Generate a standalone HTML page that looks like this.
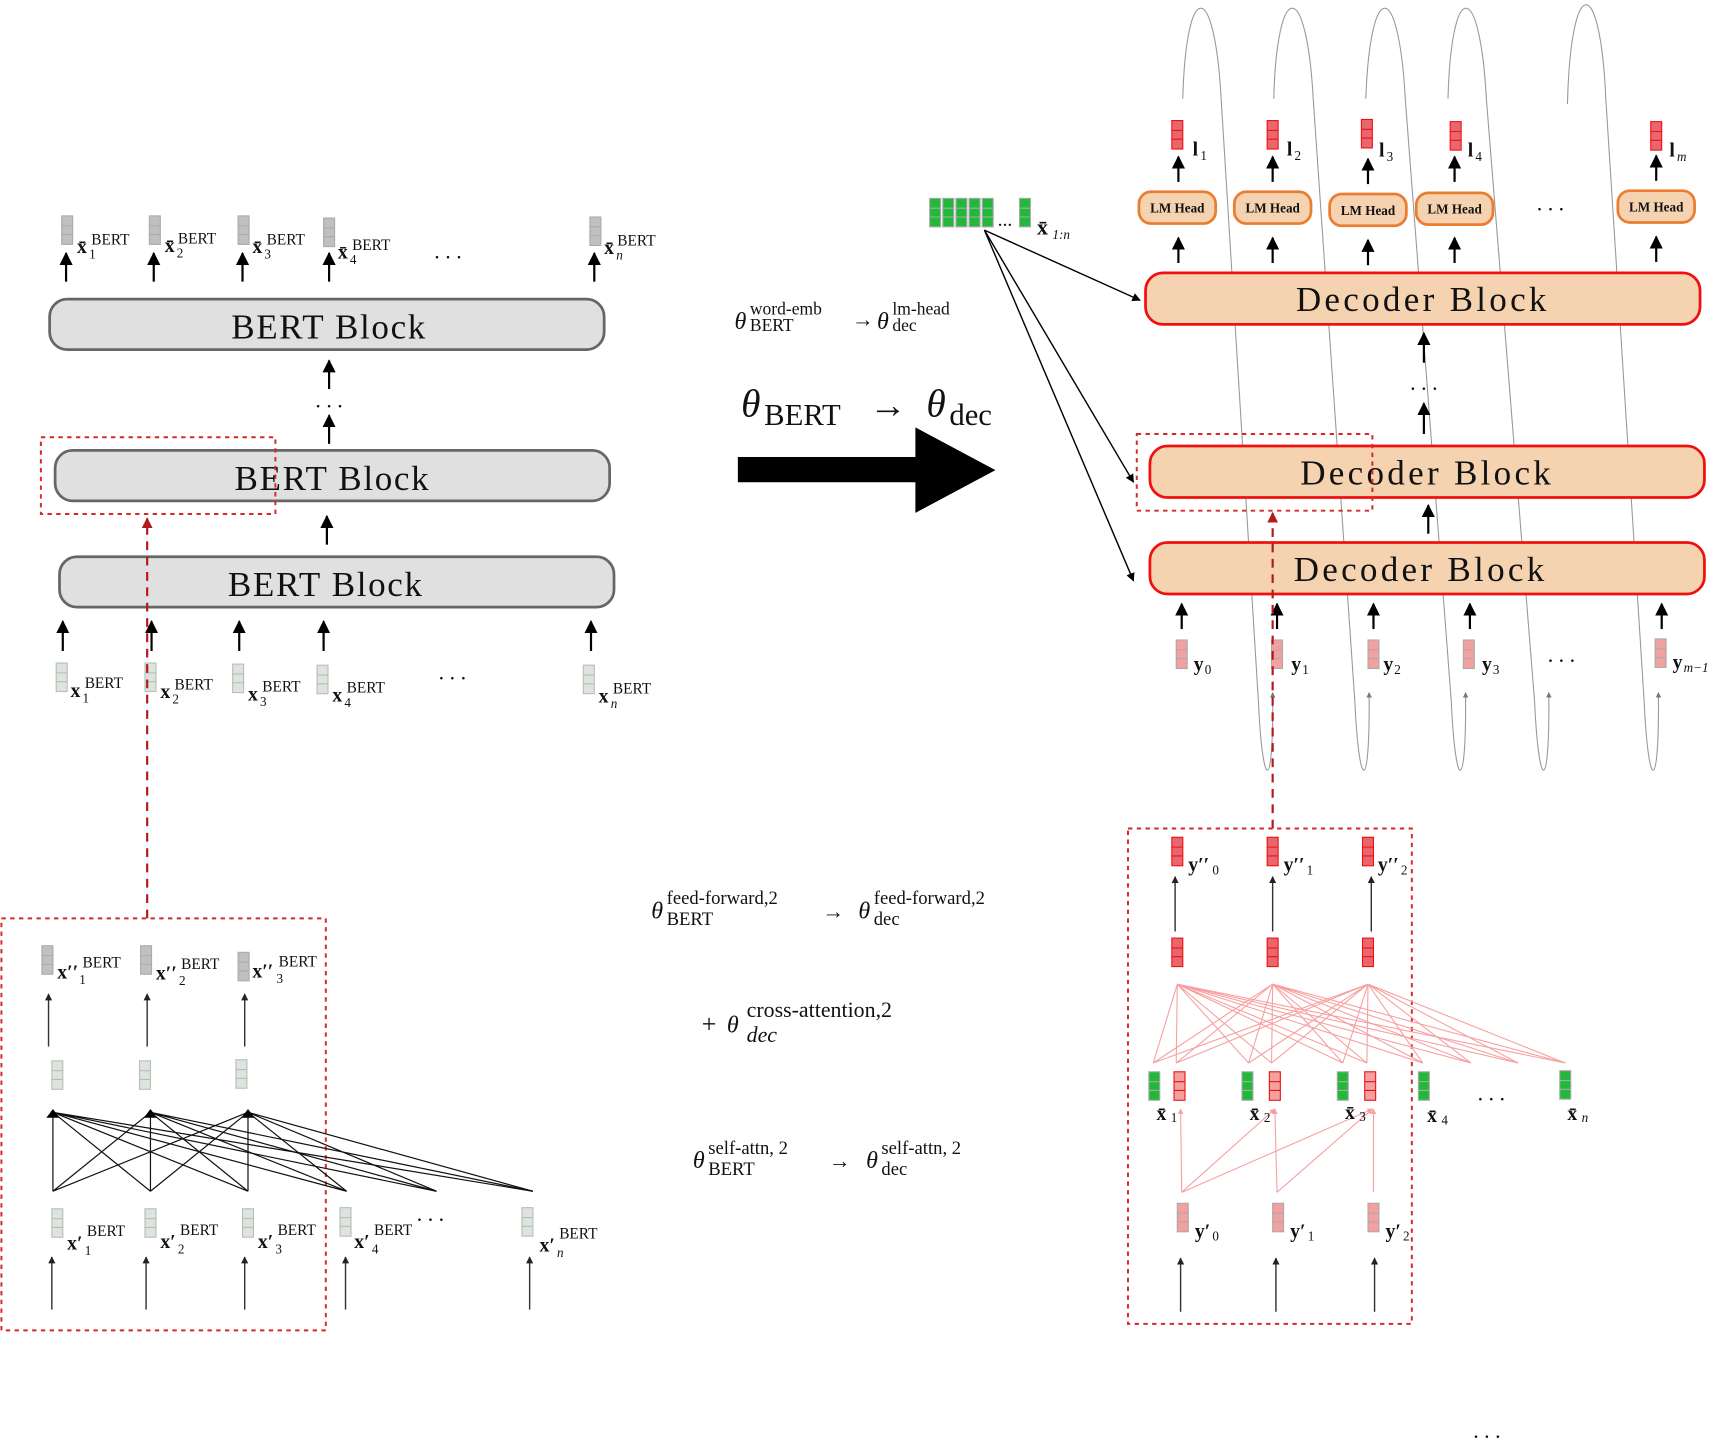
<!DOCTYPE html>
<html><head><meta charset="utf-8"><style>
html,body{margin:0;padding:0;background:#fff;}
svg{display:block;}
text{font-family:"Liberation Serif","DejaVu Serif",serif;fill:#111;}
.b{font-weight:bold;}
</style></head><body>
<svg width="1719" height="1440" viewBox="0 0 1568 1314" xmlns="http://www.w3.org/2000/svg">
<defs>
<marker id="ah" viewBox="0 0 10 10" refX="9" refY="5" markerWidth="6" markerHeight="6" orient="auto"><path d="M0,0L10,5L0,10z" fill="#000"/></marker>
<marker id="ahs" viewBox="0 0 10 10" refX="9" refY="5" markerWidth="5" markerHeight="5" orient="auto"><path d="M0,0L10,5L0,10z" fill="#222"/></marker>
<marker id="ahr" viewBox="0 0 10 10" refX="9" refY="5" markerWidth="5" markerHeight="5" orient="auto"><path d="M0,0L10,5L0,10z" fill="#b31b1b"/></marker>
<marker id="ahp" viewBox="0 0 10 10" refX="9" refY="5" markerWidth="5" markerHeight="5" orient="auto"><path d="M0,0L10,5L0,10z" fill="#f7a0a0"/></marker>
<marker id="ahg" viewBox="0 0 10 10" refX="9" refY="5" markerWidth="5" markerHeight="5" orient="auto"><path d="M0,0L10,5L0,10z" fill="#777"/></marker>
<g id="vg"><rect width="10" height="26" fill="#c0c0c0" stroke="#aaa"/><path d="M0,9H10M0,17H10" stroke="#aaa"/></g>
<g id="vl"><rect width="10" height="26" fill="#dde3dd" stroke="#b8bdb8"/><path d="M0,9H10M0,17H10" stroke="#b8bdb8"/></g>
<g id="vr"><rect width="10" height="26" fill="#e8676e" stroke="#f01010"/><path d="M0,9H10M0,17H10" stroke="#f01010"/></g>
<g id="vp"><rect width="10" height="26" fill="#f2a0a0" stroke="#aaa"/><path d="M0,9H10M0,17H10" stroke="#aaa"/></g>
<g id="vpr"><rect width="10" height="26" fill="#f2a0a0" stroke="#f01010"/><path d="M0,9H10M0,17H10" stroke="#f01010"/></g>
<g id="vgr"><rect width="10" height="26" fill="#22b83a" stroke="#aaa"/><path d="M0,9H10M0,17H10" stroke="#aaa"/></g>
</defs>

<g fill="none" stroke="#999" stroke-width="1">
<path d="M1079,90 C1082,-20 1108,-20 1114,90 L1148,640 C1152,725 1162,725 1161,632" marker-end="url(#ahg)"/>
<path d="M1162,90 C1165,-20 1192,-20 1198,90 L1236,640 C1240,725 1250,725 1249,632" marker-end="url(#ahg)"/>
<path d="M1246,90 C1250,-20 1276,-20 1282,90 L1324,640 C1328,725 1338,725 1337,632" marker-end="url(#ahg)"/>
<path d="M1321,90 C1324,-20 1350,-20 1356,90 L1400,640 C1404,725 1414,725 1413,632" marker-end="url(#ahg)"/>
<path d="M1430,95 C1433,-25 1460,-25 1465,90 L1500,640 C1504,725 1514,725 1513,632" marker-end="url(#ahg)"/>
</g>

<use href="#vg" x="56" y="197"/><use href="#vg" x="136" y="197"/><use href="#vg" x="217" y="197"/><use href="#vg" x="295" y="199"/><use href="#vg" x="538" y="198"/>
<g font-size="18" class="b">
<text x="70" y="231" class="b">x̄</text><text x="150" y="230" class="b">x̄</text><text x="230" y="231" class="b">x̄</text><text x="308" y="236" class="b">x̄</text><text x="551" y="232" class="b">x̄</text>
</g>
<g font-size="12"><text x="81" y="236">1</text><text x="161" y="235">2</text><text x="241" y="236">3</text><text x="319" y="241">4</text><text x="562" y="237" font-style="italic">n</text></g>
<g font-size="14"><text x="83" y="223">BERT</text><text x="162" y="222">BERT</text><text x="243" y="223">BERT</text><text x="321" y="228">BERT</text><text x="563" y="224">BERT</text></g>
<text x="396" y="236" font-size="20">. . .</text>
<g stroke="#000" stroke-width="2" marker-end="url(#ah)">
<line x1="60" y1="257" x2="60" y2="231"/><line x1="140" y1="257" x2="140" y2="231"/><line x1="221" y1="257" x2="221" y2="231"/><line x1="300" y1="257" x2="300" y2="231"/><line x1="542" y1="257" x2="542" y2="231"/>
<line x1="300" y1="355" x2="300" y2="329"/><line x1="300" y1="405" x2="300" y2="379"/><line x1="298" y1="497" x2="298" y2="471"/>
<line x1="57" y1="594" x2="57" y2="567"/><line x1="138" y1="594" x2="138" y2="567"/><line x1="218" y1="594" x2="218" y2="567"/><line x1="295" y1="594" x2="295" y2="567"/><line x1="539" y1="594" x2="539" y2="567"/>
</g>
<text x="300" y="372" font-size="20" text-anchor="middle">. . .</text>
<g fill="#e0e0e0" stroke="#666" stroke-width="2.5">
<rect x="45" y="273" width="506" height="46" rx="16"/><rect x="50" y="411" width="506" height="46" rx="16"/><rect x="54" y="508" width="506" height="46" rx="16"/>
</g>
<g font-size="32" text-anchor="middle" letter-spacing="1.5"><text x="300" y="309">BERT Block</text><text x="303" y="447">BERT Block</text><text x="297" y="544">BERT Block</text></g>
<rect x="37" y="399" width="214" height="70" fill="none" stroke="#d42a2a" stroke-width="1.8" stroke-dasharray="4,4"/>
<use href="#vl" x="51" y="605"/><use href="#vl" x="132" y="605"/><use href="#vl" x="212" y="606"/><use href="#vl" x="289" y="607"/><use href="#vl" x="532" y="607"/>
<g font-size="18" class="b"><text x="64" y="636" class="b">x</text><text x="146" y="637" class="b">x</text><text x="226" y="639" class="b">x</text><text x="303" y="640" class="b">x</text><text x="546" y="641" class="b">x</text></g>
<g font-size="12"><text x="75" y="641">1</text><text x="157" y="642">2</text><text x="237" y="644">3</text><text x="314" y="645">4</text><text x="557" y="646" font-style="italic">n</text></g>
<g font-size="14"><text x="77" y="628">BERT</text><text x="159" y="629">BERT</text><text x="239" y="631">BERT</text><text x="316" y="632">BERT</text><text x="559" y="633">BERT</text></g>
<text x="400" y="620" font-size="20">. . .</text>
<line x1="134" y1="838" x2="134" y2="473" stroke="#b31b1b" stroke-width="2" stroke-dasharray="8,6" marker-end="url(#ahr)"/>

<rect x="1" y="838" width="296" height="376" fill="none" stroke="#d42a2a" stroke-width="1.8" stroke-dasharray="4,4"/>
<use href="#vg" x="38" y="863"/><use href="#vg" x="128" y="863"/><use href="#vg" x="217" y="869"/>
<g font-size="18" class="b"><text x="52" y="893" class="b">x′′</text><text x="142" y="894" class="b">x′′</text><text x="230" y="892" class="b">x′′</text></g>
<g font-size="12"><text x="72" y="898">1</text><text x="163" y="899">2</text><text x="252" y="897">3</text></g>
<g font-size="14"><text x="75" y="883">BERT</text><text x="165" y="884">BERT</text><text x="254" y="882">BERT</text></g>
<g stroke="#333" stroke-width="1.3" marker-end="url(#ahs)">
<line x1="44" y1="955" x2="44" y2="907"/><line x1="134" y1="955" x2="134" y2="907"/><line x1="223" y1="955" x2="223" y2="907"/>
<line x1="47" y1="1195" x2="47" y2="1147"/><line x1="133" y1="1195" x2="133" y2="1147"/><line x1="223" y1="1195" x2="223" y2="1147"/><line x1="315" y1="1195" x2="315" y2="1147"/><line x1="483" y1="1195" x2="483" y2="1147"/>
</g>
<use href="#vl" x="47" y="968"/><use href="#vl" x="127" y="968"/><use href="#vl" x="215" y="967"/>
<g stroke="#111" stroke-width="1.1">
<path d="M48,1015L48,1087M48,1015L137,1087M48,1015L226,1087M48,1015L316,1087M48,1015L398,1087M48,1015L486,1087"/>
<path d="M137,1015L48,1087M137,1015L137,1087M137,1015L226,1087M137,1015L316,1087M137,1015L398,1087M137,1015L486,1087"/>
<path d="M226,1015L48,1087M226,1015L137,1087M226,1015L226,1087M226,1015L316,1087M226,1015L398,1087M226,1015L486,1087"/>
</g>
<g fill="#000"><path d="M42,1020L48,1012L54,1020z"/><path d="M131,1020L137,1012L143,1020z"/><path d="M220,1020L226,1012L232,1020z"/></g>
<use href="#vl" x="47" y="1103"/><use href="#vl" x="132" y="1103"/><use href="#vl" x="221" y="1103"/><use href="#vl" x="310" y="1102"/><use href="#vl" x="476" y="1102"/>
<g font-size="18" class="b"><text x="61" y="1140" class="b">x′</text><text x="146" y="1139" class="b">x′</text><text x="235" y="1139" class="b">x′</text><text x="323" y="1139" class="b">x′</text><text x="492" y="1142" class="b">x′</text></g>
<g font-size="12"><text x="77" y="1145">1</text><text x="162" y="1144">2</text><text x="251" y="1144">3</text><text x="339" y="1144">4</text><text x="508" y="1147" font-style="italic">n</text></g>
<g font-size="14"><text x="79" y="1128">BERT</text><text x="164" y="1127">BERT</text><text x="253" y="1127">BERT</text><text x="341" y="1127">BERT</text><text x="510" y="1130">BERT</text></g>
<text x="380" y="1114" font-size="20">. . .</text>

<text x="670" y="300" font-size="22" font-style="italic">θ</text>
<text x="684" y="287" font-size="16">word-emb</text><text x="684" y="302" font-size="16">BERT</text>
<text x="777" y="298" font-size="20">→</text>
<text x="800" y="300" font-size="22" font-style="italic">θ</text>
<text x="814" y="287" font-size="16">lm-head</text><text x="814" y="302" font-size="16">dec</text>
<text x="676" y="380" font-size="36" font-style="italic">θ</text>
<text x="697" y="388" font-size="28">BERT</text>
<text x="793" y="381" font-size="34">→</text>
<text x="845" y="380" font-size="36" font-style="italic">θ</text>
<text x="866" y="388" font-size="28">dec</text>
<path d="M673,417H835V390L908,429L835,468V440H673z" fill="#000"/>

<text x="594" y="838" font-size="22" font-style="italic">θ</text>
<text x="608" y="825" font-size="17">feed-forward,2</text><text x="608" y="844" font-size="17">BERT</text>
<text x="750" y="838" font-size="20">→</text>
<text x="783" y="838" font-size="22" font-style="italic">θ</text>
<text x="797" y="825" font-size="17">feed-forward,2</text><text x="797" y="844" font-size="17">dec</text>
<text x="640" y="942" font-size="24">+</text><text x="663" y="942" font-size="22" font-style="italic">θ</text>
<text x="681" y="928" font-size="20">cross-attention,2</text><text x="681" y="951" font-size="20" font-style="italic">dec</text>
<text x="632" y="1066" font-size="22" font-style="italic">θ</text>
<text x="646" y="1053" font-size="17">self-attn, 2</text><text x="646" y="1072" font-size="17">BERT</text>
<text x="756" y="1066" font-size="20">→</text>
<text x="790" y="1066" font-size="22" font-style="italic">θ</text>
<text x="804" y="1053" font-size="17">self-attn, 2</text><text x="804" y="1072" font-size="17">dec</text>

<use href="#vgr" x="848" y="181"/><use href="#vgr" x="860" y="181"/><use href="#vgr" x="872" y="181"/><use href="#vgr" x="884" y="181"/><use href="#vgr" x="896" y="181"/><use href="#vgr" x="930" y="181"/>
<text x="910" y="206" font-size="18">...</text>
<text x="946" y="214" font-size="20" class="b">x̄</text><text x="960" y="218" font-size="12" font-style="italic">1:n</text>
<g stroke="#000" stroke-width="1.3" marker-end="url(#ah)">
<line x1="898" y1="210" x2="1040" y2="274"/><line x1="898" y1="210" x2="1034" y2="440"/><line x1="898" y1="210" x2="1034" y2="530"/>
</g>
<g fill="#f5d3b0" stroke="#f01010" stroke-width="2.5">
<rect x="1045" y="249" width="506" height="47" rx="16"/><rect x="1049" y="407" width="506" height="47" rx="16"/><rect x="1049" y="495" width="506" height="47" rx="16"/>
</g>
<g font-size="32" text-anchor="middle" letter-spacing="3"><text x="1298" y="284">Decoder Block</text><text x="1302" y="442">Decoder Block</text><text x="1296" y="530">Decoder Block</text></g>
<rect x="1037" y="396" width="215" height="70" fill="none" stroke="#d42a2a" stroke-width="1.8" stroke-dasharray="4,4"/>
<g stroke="#000" stroke-width="2" marker-end="url(#ah)">
<line x1="1299" y1="331" x2="1299" y2="304"/><line x1="1299" y1="396" x2="1299" y2="368"/><line x1="1303" y1="487" x2="1303" y2="461"/>
<line x1="1075" y1="240" x2="1075" y2="217"/><line x1="1161" y1="240" x2="1161" y2="217"/><line x1="1248" y1="242" x2="1248" y2="219"/><line x1="1327" y1="240" x2="1327" y2="217"/><line x1="1511" y1="239" x2="1511" y2="216"/>
<line x1="1075" y1="166" x2="1075" y2="143"/><line x1="1161" y1="166" x2="1161" y2="143"/><line x1="1248" y1="168" x2="1248" y2="145"/><line x1="1327" y1="166" x2="1327" y2="143"/><line x1="1511" y1="165" x2="1511" y2="142"/>
<line x1="1078" y1="574" x2="1078" y2="551"/><line x1="1165" y1="574" x2="1165" y2="551"/><line x1="1253" y1="574" x2="1253" y2="551"/><line x1="1341" y1="574" x2="1341" y2="551"/><line x1="1516" y1="574" x2="1516" y2="551"/>
</g>
<text x="1299" y="356" font-size="20" text-anchor="middle">. . .</text>
<g fill="#f5d3b0" stroke="#ea7d30" stroke-width="2.5">
<rect x="1039" y="175" width="70" height="29" rx="11"/><rect x="1126" y="175" width="70" height="29" rx="11"/><rect x="1213" y="177" width="70" height="29" rx="11"/><rect x="1292" y="176" width="70" height="29" rx="11"/><rect x="1476" y="174" width="70" height="29" rx="11"/>
</g>
<g font-size="12" class="b" text-anchor="middle"><text x="1074" y="194">LM Head</text><text x="1161" y="194">LM Head</text><text x="1248" y="196">LM Head</text><text x="1327" y="195">LM Head</text><text x="1511" y="193">LM Head</text></g>
<text x="1402" y="192" font-size="20">. . .</text>
<use href="#vr" x="1069" y="110"/><use href="#vr" x="1156" y="110"/><use href="#vr" x="1242" y="109"/><use href="#vr" x="1323" y="111"/><use href="#vr" x="1506" y="111"/>
<g font-size="18" class="b"><text x="1088" y="142" class="b">l</text><text x="1174" y="142" class="b">l</text><text x="1258" y="143" class="b">l</text><text x="1339" y="143" class="b">l</text><text x="1523" y="143" class="b">l</text></g>
<g font-size="12"><text x="1095" y="146">1</text><text x="1181" y="146">2</text><text x="1265" y="147">3</text><text x="1346" y="147">4</text><text x="1530" y="147" font-style="italic">m</text></g>
<use href="#vp" x="1073" y="584"/><use href="#vp" x="1160" y="584"/><use href="#vp" x="1248" y="584"/><use href="#vp" x="1335" y="584"/><use href="#vp" x="1510" y="583"/>
<g font-size="18" class="b"><text x="1089" y="612" class="b">y</text><text x="1178" y="612" class="b">y</text><text x="1262" y="612" class="b">y</text><text x="1352" y="612" class="b">y</text><text x="1526" y="610" class="b">y</text></g>
<g font-size="12"><text x="1099" y="615">0</text><text x="1188" y="615">1</text><text x="1272" y="615">2</text><text x="1362" y="615">3</text><text x="1536" y="613" font-style="italic">m−1</text></g>
<text x="1412" y="604" font-size="20">. . .</text>
<line x1="1161" y1="756" x2="1161" y2="468" stroke="#b31b1b" stroke-width="2" stroke-dasharray="8,6" marker-end="url(#ahr)"/>

<rect x="1029" y="756" width="259" height="452" fill="none" stroke="#d42a2a" stroke-width="1.8" stroke-dasharray="4,4"/>
<use href="#vr" x="1069" y="764"/><use href="#vr" x="1156" y="764"/><use href="#vr" x="1243" y="764"/>
<g font-size="18" class="b"><text x="1084" y="795" class="b">y′′</text><text x="1171" y="795" class="b">y′′</text><text x="1257" y="795" class="b">y′′</text></g>
<g font-size="12"><text x="1106" y="798">0</text><text x="1192" y="798">1</text><text x="1278" y="798">2</text></g>
<g stroke="#333" stroke-width="1.3" marker-end="url(#ahs)">
<line x1="1072" y1="850" x2="1072" y2="800"/><line x1="1161" y1="850" x2="1161" y2="800"/><line x1="1251" y1="850" x2="1251" y2="800"/>
<line x1="1077" y1="1197" x2="1077" y2="1148"/><line x1="1164" y1="1197" x2="1164" y2="1148"/><line x1="1254" y1="1197" x2="1254" y2="1148"/>
</g>
<use href="#vr" x="1069" y="856"/><use href="#vr" x="1156" y="856"/><use href="#vr" x="1243" y="856"/>
<g stroke="#f7a0a0" stroke-width="1">
<path d="M1074,898L1052,970M1074,898L1073,970M1074,898L1139,970M1074,898L1160,970M1074,898L1225,970M1074,898L1247,970M1074,898L1298,970M1074,898L1342,970M1074,898L1385,970M1074,898L1428,970"/>
<path d="M1161,898L1052,970M1161,898L1073,970M1161,898L1139,970M1161,898L1160,970M1161,898L1225,970M1161,898L1247,970M1161,898L1298,970M1161,898L1342,970M1161,898L1385,970M1161,898L1428,970"/>
<path d="M1248,898L1052,970M1248,898L1073,970M1248,898L1139,970M1248,898L1160,970M1248,898L1225,970M1248,898L1247,970M1248,898L1298,970M1248,898L1342,970M1248,898L1385,970M1248,898L1428,970"/>
</g>
<g stroke="#f7a0a0" stroke-width="1" marker-end="url(#ahp)">
<line x1="1078" y1="1088" x2="1077" y2="1012"/><line x1="1078" y1="1088" x2="1163" y2="1012"/><line x1="1078" y1="1088" x2="1252" y2="1012"/>
<line x1="1165" y1="1088" x2="1163" y2="1012"/><line x1="1165" y1="1088" x2="1252" y2="1012"/>
<line x1="1253" y1="1088" x2="1253" y2="1012"/>
</g>
<use href="#vgr" x="1048" y="978"/><use href="#vpr" x="1071" y="978"/><use href="#vgr" x="1133" y="978"/><use href="#vpr" x="1158" y="978"/><use href="#vgr" x="1220" y="978"/><use href="#vpr" x="1245" y="978"/><use href="#vgr" x="1294" y="978"/><use href="#vgr" x="1423" y="977"/>
<g font-size="18" class="b"><text x="1055" y="1022" class="b">x̄</text><text x="1140" y="1022" class="b">x̄</text><text x="1227" y="1021" class="b">x̄</text><text x="1302" y="1024" class="b">x̄</text><text x="1430" y="1022" class="b">x̄</text></g>
<g font-size="12"><text x="1068" y="1024">1</text><text x="1153" y="1024">2</text><text x="1240" y="1023">3</text><text x="1315" y="1026">4</text><text x="1443" y="1024" font-style="italic">n</text></g>
<text x="1348" y="1004" font-size="20">. . .</text>
<use href="#vp" x="1074" y="1098"/><use href="#vp" x="1161" y="1098"/><use href="#vp" x="1248" y="1098"/>
<g font-size="18" class="b"><text x="1090" y="1129" class="b">y′</text><text x="1177" y="1129" class="b">y′</text><text x="1264" y="1129" class="b">y′</text></g>
<g font-size="12"><text x="1106" y="1132">0</text><text x="1193" y="1132">1</text><text x="1280" y="1132">2</text></g>
<text x="1344" y="1312" font-size="20">. . .</text>
</svg>
</body></html>
